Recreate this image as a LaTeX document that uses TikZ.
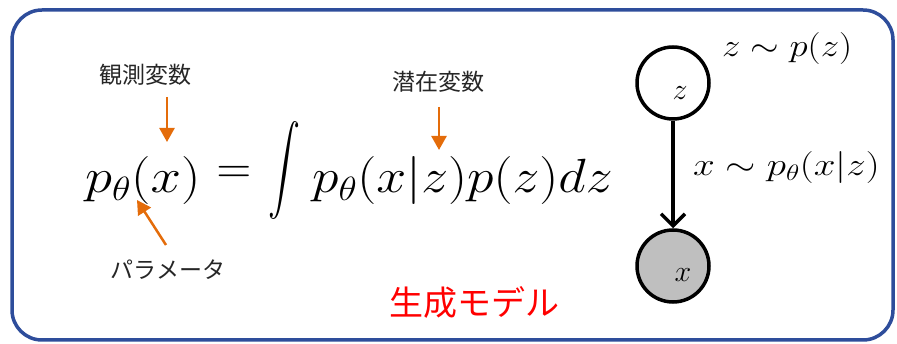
\RequirePackage{fix-cm}
\documentclass[tikz,border=0pt]{standalone}
\usepackage{exscale}
\usepackage{fontspec}
\usepackage{graphicx}
\newfontfamily\jp{Noto Sans CJK JP}
\usetikzlibrary{arrows.meta}
\definecolor{frameblue}{RGB}{46,77,155}
\definecolor{arrorange}{RGB}{228,108,10}
\definecolor{nodegray}{RGB}{191,191,191}
\definecolor{txtgray}{RGB}{38,38,38}
\definecolor{redtxt}{RGB}{255,0,0}
\tikzset{
  jplabel/.style={font=\jp\fontsize{23}{26}\selectfont, text=txtgray, inner sep=0pt},
  bigmath/.style={font=\fontsize{48}{56}\selectfont, inner sep=0pt},
  smallmath/.style={font=\fontsize{32}{38}\selectfont, inner sep=0pt},
  orangearrow/.style={draw=arrorange, line width=2.5pt, -{Triangle[length=14pt,width=15pt]}},
  gmnode/.style={circle, draw=black, line width=3.5pt, minimum size=72pt, inner sep=0pt},
  blackarrow/.style={draw=black, line width=3.5pt, -{Straight Barb[length=12pt,width=24pt,line width=3.5pt]}}
}
\begin{document}
\begin{tikzpicture}[x=1pt,y=-1pt]
\useasboundingbox (0,0) rectangle (897,344);
% frame
\draw[frameblue, line width=3.5pt, rounded corners=30pt] (12,10) rectangle (893,340);

% main equation
\node[bigmath, anchor=base west] (lhs) at (85,193) {\scalebox{1.14}[1]{$p_\theta(x)$}};
\node[bigmath] (eq) at (234,175) {$=$};
\node[inner sep=0pt] (int) at (284,171) {\resizebox*{32pt}{98pt}{$\displaystyle\int$}};
\node[bigmath, anchor=base west] (rhs) at (312,193) {\scalebox{1.12}[1]{$p_\theta(x|z)p(z)dz$}};

% labels
\node[jplabel] (obs) at (145,75) {観測変数};
\node[jplabel] (lat) at (438,82) {潜在変数};
\node[jplabel] (par) at (168,270) {パラメータ};
\coordinate (obsT) at (167,97);
\coordinate (obsH) at (167,142);
\coordinate (latT) at (439,107);
\coordinate (latH) at (439,150);
\coordinate (parT) at (166,245);
\coordinate (parH) at (137,200);
\draw[orangearrow] (obsT) -- (obsH);
\draw[orangearrow] (latT) -- (latH);
\draw[orangearrow] (parT) -- (parH);

% title
\node[font=\jp\fontsize{34}{40}\selectfont, text=redtxt, inner sep=0pt] (title) at (474,302) {生成モデル};

% graphical model
\node[gmnode, fill=white] (zn) at (673,83) {};
\node[gmnode, fill=nodegray] (xn) at (673,266) {};
\node[font=\fontsize{30}{34}\selectfont, inner sep=0pt, anchor=base] (zl) at (680,100) {$z$};
\node[font=\fontsize{30}{34}\selectfont, inner sep=0pt, anchor=base] (xl) at (683,282) {$x$};
\draw[blackarrow] (zn.south) -- (xn.north);
\node[smallmath, anchor=base west] (zdist) at (722,57) {\scalebox{1.15}[1]{$z\sim p(z)$}};
\node[smallmath, anchor=base west] (xdist) at (693,176) {\scalebox{1.22}[1]{$x\sim p_\theta(x|z)$}};
\end{tikzpicture}
\end{document}
